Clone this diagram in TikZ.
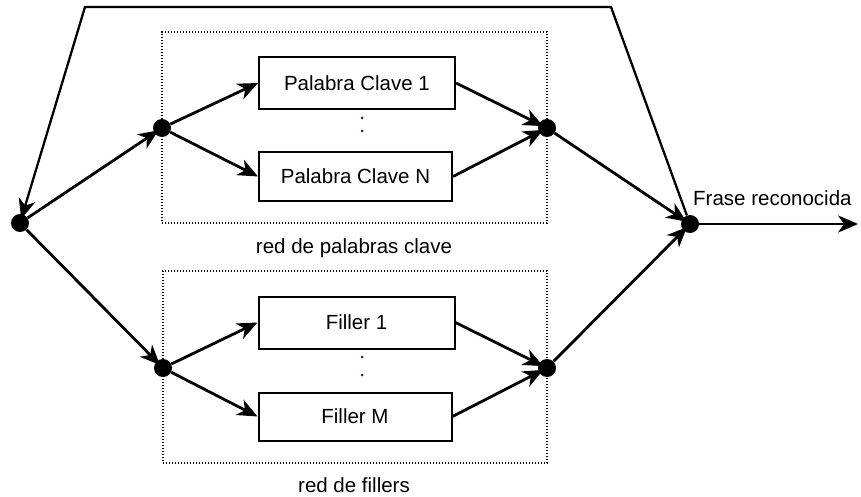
\documentclass[tikz,border=0pt]{standalone}
\usepackage{fontspec}
\setmainfont{Liberation Sans}
\usepackage{xcolor}
\usepackage{tikz}
\usetikzlibrary{arrows.meta,positioning}
\definecolor{dotnavy}{HTML}{1A1A8C}
\tikzset{
  junc/.style={circle,fill=black,minimum size=18pt,inner sep=0pt},
  wbox/.style={draw=black,line width=2pt,minimum width=196pt,minimum height=52pt,inner sep=0pt,font=\fontsize{20.5}{24}\selectfont},
  wboxlow/.style={wbox,minimum width=193pt,minimum height=48pt},
  net/.style={draw=black,line width=1.3pt,dash pattern=on 1.3pt off 1.7pt,inner sep=0pt},
  lbl/.style={font=\fontsize{20.5}{24}\selectfont,inner sep=0pt},
  arr/.style={-{Stealth[length=20pt,width=17pt,inset=6pt]},line width=2.8pt},
  tojunc/.style={arr,shorten >=-5pt},
  lin/.style={line width=2.3pt},
  vdot/.style={circle,fill=dotnavy,minimum size=3pt,inner sep=0pt},
}
\begin{document}
\begin{tikzpicture}[x=1pt,y=-1pt]
        \useasboundingbox (0,0) rectangle (861,497);
        \node[net,minimum width=385pt,minimum height=191pt] (kwnet) at (354.5,127.5) {};
        \node[net,minimum width=384pt,minimum height=192pt] (flnet) at (355,367) {};
        \node[lbl,anchor=base] (kwlbl) at (354,253) {red de palabras clave};
        \node[lbl,anchor=base] (fllbl) at (354,492) {red de fillers};
        \node[wbox] (k1) at (357,83) {Palabra Clave 1};
        \node[wboxlow] (kn) at (355.5,176.5) {Palabra Clave N};
        \node[wbox] (f1) at (356.5,322.5) {Filler 1};
        \node[wboxlow] (fm) at (355,416.5) {Filler M};
        \foreach \y/\n in {118/a,131/b,357/c,375/d} \node[vdot] (dot\n) at (362,\y) {};
        \node[junc] (in) at (20,223) {};
        \node[junc] (kin) at (162,128) {};
        \node[junc] (kout) at (547,128) {};
        \node[junc] (fin) at (163,368) {};
        \node[junc] (fout) at (547,368) {};
        \node[junc] (out) at (690,224) {};
        \coordinate (tl) at (85,7);
        \coordinate (tr) at (611,7);
        \coordinate (end) at (858,224);
        \draw[tojunc] (in) -- (kin);  \draw[tojunc] (in) -- (fin);
        \draw[arr] (kin) -- (k1.west); \draw[arr] (kin) -- (kn.west);
        \draw[arr] (fin) -- (f1.west); \draw[arr] (fin) -- (fm.west);
        \draw[tojunc] (k1.east) -- (kout); \draw[tojunc] (kn.east) -- (kout);
        \draw[tojunc] (f1.east) -- (fout); \draw[tojunc] (fm.east) -- (fout);
        \draw[tojunc] (kout) -- (out); \draw[tojunc] (fout) -- (out);
        \draw[tojunc,lin] (out) -- (tr) -- (tl) -- (in);
        \draw[arr] (out) -- (end);
        \node[lbl,anchor=base west] (res) at (693,205) {Frase reconocida};
      \end{tikzpicture}
\end{document}
